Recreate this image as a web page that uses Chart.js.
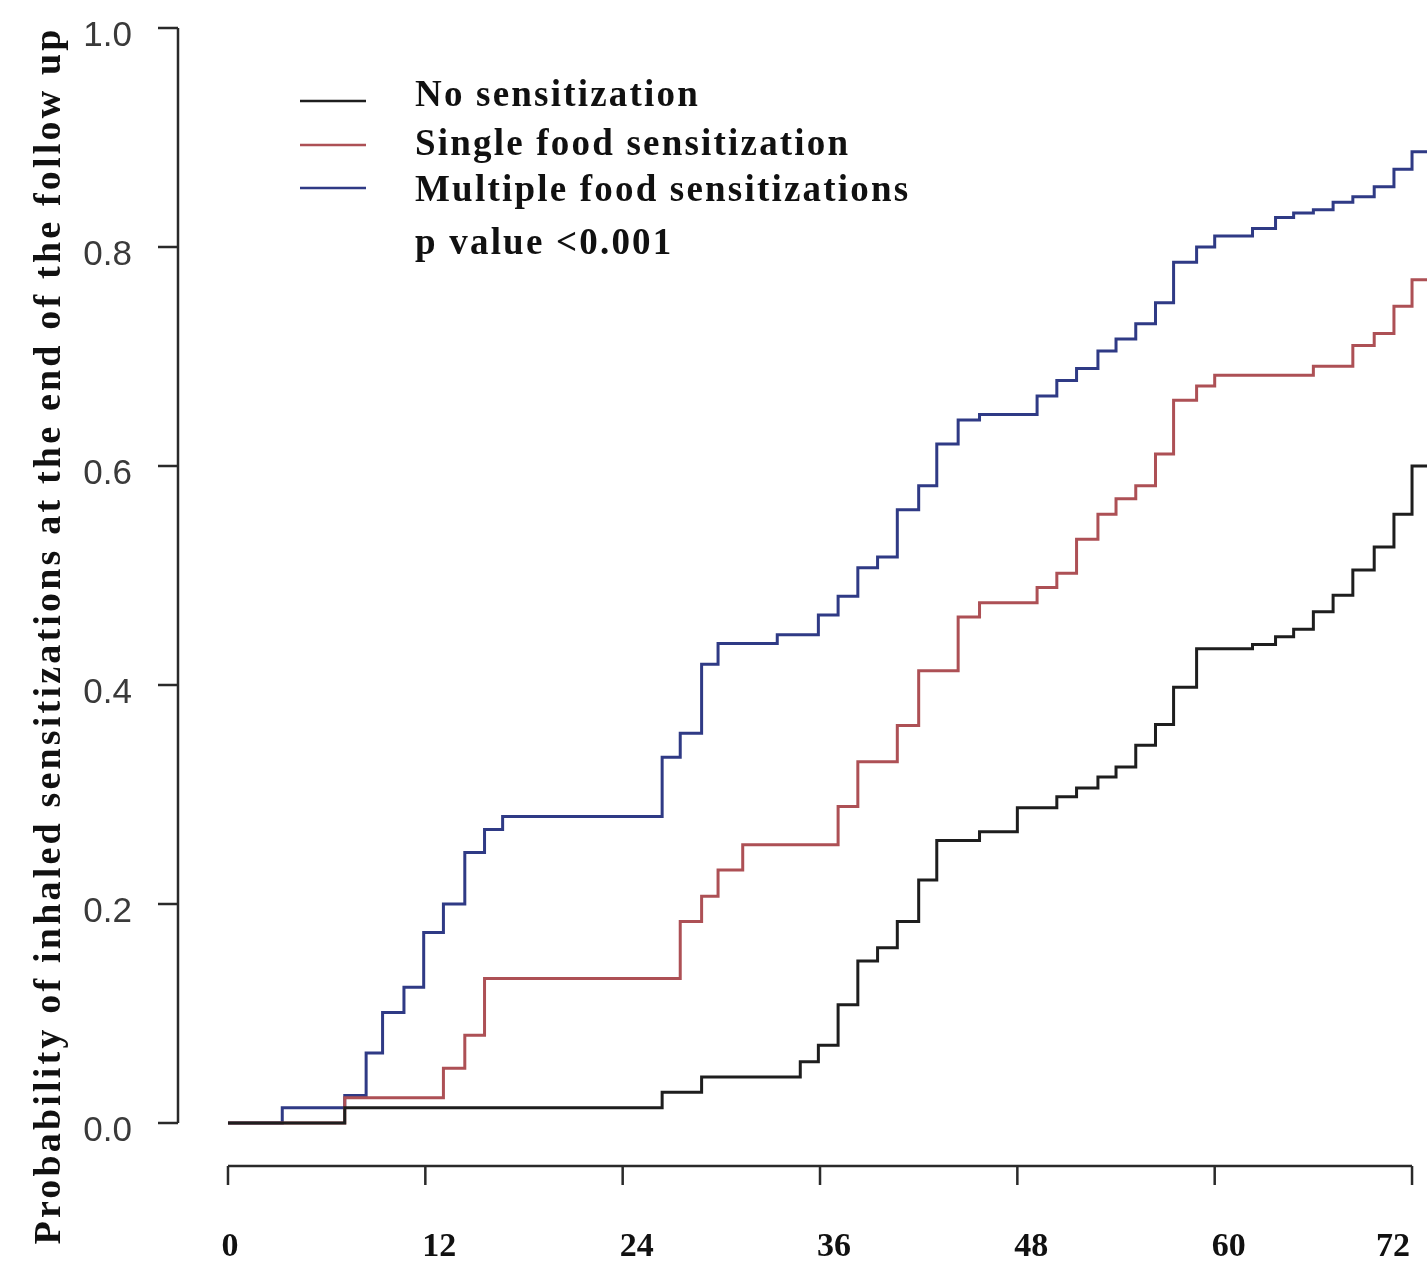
<!DOCTYPE html>
<html>
<head>
<meta charset="utf-8">
<title>Inhaled sensitizations by food sensitization group</title>
<script src="https://cdn.jsdelivr.net/npm/chart.js@4.4.1/dist/chart.umd.min.js"></script>
<style>
  body { margin: 0; background: #fff; }
  #wrap { width: 1427px; height: 1271px; }
</style>
</head>
<body>
<div id="wrap"><canvas id="km-chart" width="1427" height="1271"></canvas></div>
<script>
// step times (months) and cumulative probability after each step
const noSensTimes = [0, 7.1, 26.4, 28.8, 34.8, 35.9, 37.1, 38.3, 39.5, 40.7, 42.0, 43.1, 45.7, 48.0, 50.4, 51.6, 52.9, 54.0, 55.2, 56.4, 57.5, 58.9, 62.3, 63.7, 64.8, 66.0, 67.2, 68.4, 69.7, 70.9, 72.0];
const noSensProb = [0, 0.014, 0.028, 0.042, 0.056, 0.071, 0.108, 0.148, 0.160, 0.184, 0.222, 0.258, 0.266, 0.288, 0.298, 0.306, 0.316, 0.325, 0.345, 0.364, 0.398, 0.433, 0.437, 0.444, 0.451, 0.467, 0.482, 0.505, 0.526, 0.556, 0.600];

const singleTimes = [0, 7.1, 13.1, 14.4, 15.6, 27.5, 28.8, 29.8, 31.3, 37.1, 38.3, 40.7, 42.0, 44.4, 45.7, 49.2, 50.4, 51.6, 52.9, 54.0, 55.2, 56.4, 57.5, 58.9, 60.0, 66.0, 68.4, 69.7, 70.9, 72.0];
const singleProb = [0, 0.023, 0.050, 0.080, 0.132, 0.184, 0.207, 0.231, 0.254, 0.289, 0.330, 0.363, 0.413, 0.462, 0.475, 0.489, 0.502, 0.533, 0.556, 0.570, 0.582, 0.611, 0.660, 0.673, 0.683, 0.691, 0.710, 0.721, 0.746, 0.770];

const multipleTimes = [0, 3.3, 7.1, 8.4, 9.4, 10.7, 11.9, 13.1, 14.4, 15.6, 16.7, 26.4, 27.5, 28.8, 29.8, 33.4, 35.9, 37.1, 38.3, 39.5, 40.7, 42.0, 43.1, 44.4, 45.7, 49.2, 50.4, 51.6, 52.9, 54.0, 55.2, 56.4, 57.5, 58.9, 60.0, 62.3, 63.7, 64.8, 66.0, 67.2, 68.4, 69.7, 70.9, 72.0];
const multipleProb = [0, 0.014, 0.025, 0.064, 0.101, 0.124, 0.174, 0.200, 0.247, 0.268, 0.280, 0.334, 0.356, 0.419, 0.438, 0.446, 0.464, 0.481, 0.507, 0.517, 0.560, 0.582, 0.620, 0.642, 0.647, 0.664, 0.678, 0.689, 0.705, 0.716, 0.730, 0.749, 0.786, 0.800, 0.810, 0.817, 0.827, 0.831, 0.834, 0.841, 0.846, 0.855, 0.871, 0.887];

const followUpEnd = 73; // curves run on to the edge of the plot

const seriesLabels = ['No sensitization', 'Single food sensitization', 'Multiple food sensitizations'];
const seriesColors = ['#1e1e1e', '#ad5055', '#2f3a85'];
const pValueText = 'p value <0.001';
const yTitle = 'Probability of inhaled sensitizations at the end of the follow up';

const xTicks = [0, 12, 24, 36, 48, 60, 72];
const yTicks = [0, 0.2, 0.4, 0.6, 0.8, 1.0];
const yTickLabels = ['0.0', '0.2', '0.4', '0.6', '0.8', '1.0'];

// helper to turn times + probs into {x, y} points
function toSteps(times, probs) {
  const pts = times.map((t, i) => ({ x: t, y: probs[i] }));
  pts.push({ x: followUpEnd, y: probs[probs.length - 1] });
  return pts;
}

// draw text with extra letter spacing
function fillSpaced(ctx, text, x, y, spacing) {
  ctx.letterSpacing = spacing + 'px';
  ctx.fillText(text, x, y);
  ctx.letterSpacing = '0px';
}

// R-style detached axes, legend and y title
const rAxesPlugin = {
  id: 'rAxes',
  afterDraw(chart) {
    const ctx = chart.ctx;
    const xs = chart.scales.x;
    const ys = chart.scales.y;
    const area = chart.chartArea;

    ctx.save();
    ctx.strokeStyle = '#2a2a2a';
    ctx.lineWidth = 2.5;

    // y axis
    const axisX = area.left;
    ctx.beginPath();
    ctx.moveTo(axisX, ys.getPixelForValue(yTicks[0]));
    ctx.lineTo(axisX, ys.getPixelForValue(yTicks[yTicks.length - 1]));
    yTicks.forEach(v => {
      const py = ys.getPixelForValue(v);
      ctx.moveTo(axisX, py);
      ctx.lineTo(axisX - 20, py);
    });
    ctx.stroke();

    ctx.fillStyle = '#3a3a3a';
    ctx.font = '35px "Liberation Sans", Arial, sans-serif';
    ctx.textAlign = 'right';
    ctx.textBaseline = 'alphabetic';
    yTicks.forEach((v, i) => {
      ctx.fillText(yTickLabels[i], axisX - 46, ys.getPixelForValue(v) + 18);
    });

    // x axis
    const axisY = area.bottom;
    ctx.beginPath();
    ctx.moveTo(xs.getPixelForValue(xTicks[0]), axisY);
    ctx.lineTo(xs.getPixelForValue(xTicks[xTicks.length - 1]), axisY);
    xTicks.forEach(t => {
      const px = xs.getPixelForValue(t);
      ctx.moveTo(px, axisY);
      ctx.lineTo(px, axisY + 19);
    });
    ctx.stroke();

    ctx.fillStyle = '#111';
    ctx.font = 'bold 34px "Liberation Serif", "Times New Roman", serif';
    xTicks.forEach((t, i) => {
      const px = xs.getPixelForValue(t);
      if (i === 0) {
        ctx.textAlign = 'center';
        ctx.fillText(String(t), px + 2, axisY + 90);
      } else if (i === xTicks.length - 1) {
        ctx.textAlign = 'right';
        ctx.fillText(String(t), px - 2, axisY + 90);
      } else {
        ctx.textAlign = 'left';
        ctx.fillText(String(t), px - 3, axisY + 90);
      }
    });

    // legend
    const legendLineY = [101, 145, 188];
    const legendTextY = [106, 155, 201];
    ctx.textAlign = 'left';
    ctx.font = 'bold 37px "Liberation Serif", "Times New Roman", serif';
    seriesLabels.forEach((label, i) => {
      ctx.strokeStyle = seriesColors[i];
      ctx.lineWidth = 2.5;
      ctx.beginPath();
      ctx.moveTo(300, legendLineY[i]);
      ctx.lineTo(366, legendLineY[i]);
      ctx.stroke();
      ctx.fillStyle = '#111';
      fillSpaced(ctx, label, 415, legendTextY[i], 2.2);
    });
    fillSpaced(ctx, pValueText, 415, 254, 2.2);

    // y title, rotated
    ctx.translate(60, 637);
    ctx.rotate(-Math.PI / 2);
    ctx.font = 'bold 38px "Liberation Serif", "Times New Roman", serif';
    ctx.textAlign = 'center';
    const natural = ctx.measureText(yTitle).width;
    const spacing = Math.max(0, (1215 - natural) / (yTitle.length - 1));
    fillSpaced(ctx, yTitle, spacing / 2, 0, spacing);

    ctx.restore();
  }
};

const datasets = [
  { label: seriesLabels[0], data: toSteps(noSensTimes, noSensProb) },
  { label: seriesLabels[1], data: toSteps(singleTimes, singleProb) },
  { label: seriesLabels[2], data: toSteps(multipleTimes, multipleProb) }
].map((ds, i) => ({
  ...ds,
  borderColor: seriesColors[i],
  backgroundColor: seriesColors[i],
  borderWidth: 3,
  pointRadius: 0,
  stepped: 'before',
  fill: false
}));

new Chart(document.getElementById('km-chart'), {
  type: 'line',
  data: { datasets },
  options: {
    responsive: false,
    animation: false,
    layout: { padding: { left: 178, right: 0, top: 0, bottom: 105 } },
    plugins: {
      legend: { display: false },
      tooltip: { enabled: false }
    },
    scales: {
      x: { type: 'linear', min: -3.04, max: 72.91, display: false },
      y: { type: 'linear', min: -0.0393, max: 1.0256, display: false }
    }
  },
  plugins: [rAxesPlugin]
});
</script>
</body>
</html>
